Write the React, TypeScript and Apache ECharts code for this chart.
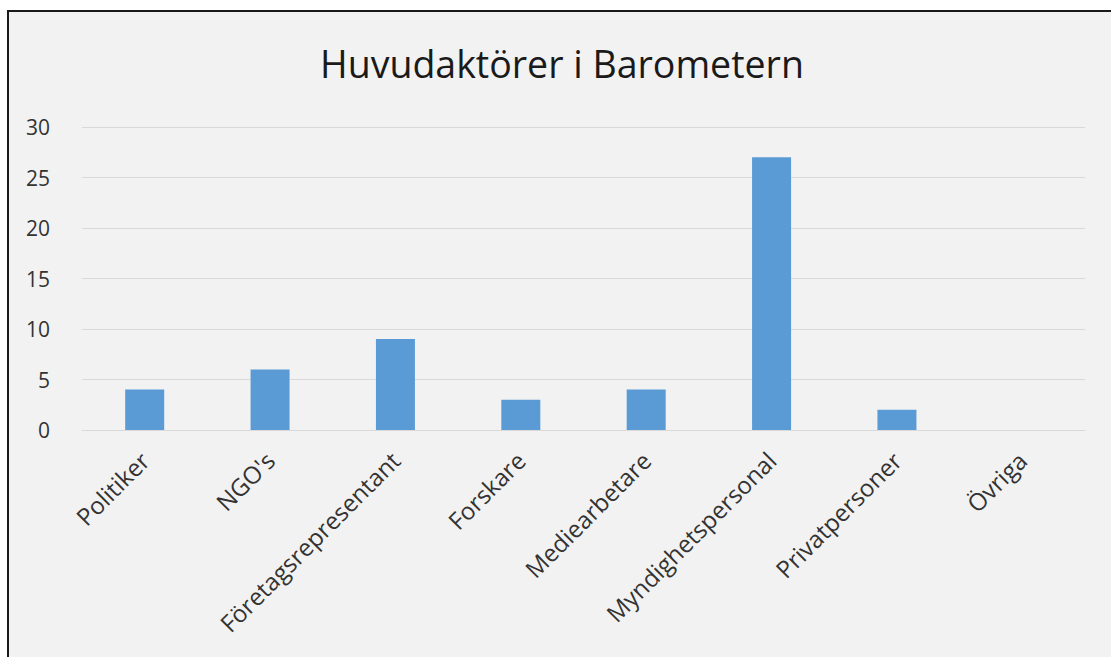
import React, { useEffect, useRef } from "react";
import * as echarts from "echarts";

const categories = [
  "Politiker",
  "NGO's",
  "Företagsrepresentant",
  "Forskare",
  "Mediearbetare",
  "Myndighetspersonal",
  "Privatpersoner",
  "Övriga",
];
const values = [4, 6, 9, 3, 4, 27, 2, 0];
const titleText = "Huvudaktörer i Barometern";

export default function App() {
  const ref = useRef<HTMLDivElement>(null);
  useEffect(() => {
    document.body.style.margin = "0";
    const chart = echarts.init(ref.current!, undefined, { renderer: "svg" });
    const font = "'Open Sans', 'Noto Sans', sans-serif";
    chart.setOption({
      animation: false,
      backgroundColor: "#ffffff",
      graphic: [
        {
          type: "rect",
          z: -10,
          shape: { x: 8, y: 11, width: 1300, height: 800 },
          style: { fill: "#f2f2f2", stroke: "#1a1a1a", lineWidth: 2 },
        },
      ],
      title: {
        text: titleText,
        left: 315,
        top: 39,
        textStyle: {
          fontFamily: font,
          fontSize: 37.5,
          fontWeight: "normal",
          color: "#1a1a1a",
        },
      },
      grid: { left: 82, right: 26, top: 127, bottom: 227, containLabel: false },
      xAxis: {
        type: "category",
        data: categories,
        axisLine: { lineStyle: { color: "#d9d9d9", width: 1 } },
        axisTick: { show: false },
        axisLabel: {
          rotate: 45,
          margin: 26,
          fontFamily: font,
          fontSize: 24,
          color: "#333333",
          interval: 0,
        },
      },
      yAxis: {
        type: "value",
        min: 0,
        max: 30,
        interval: 5,
        axisLine: { show: false },
        axisTick: { show: false },
        splitLine: { lineStyle: { color: "#d9d9d9", width: 1 } },
        axisLabel: {
          margin: 32,
          fontFamily: font,
          fontSize: 21,
          color: "#333333",
        },
      },
      series: [
        {
          type: "bar",
          data: values,
          barWidth: 39,
          itemStyle: { color: "#5b9bd5" },
        },
      ],
    });
    return () => chart.dispose();
  }, []);
  return (
    <div
      ref={ref}
      style={{ width: 1111, height: 657, position: "absolute", left: 0, top: 0 }}
    />
  );
}
